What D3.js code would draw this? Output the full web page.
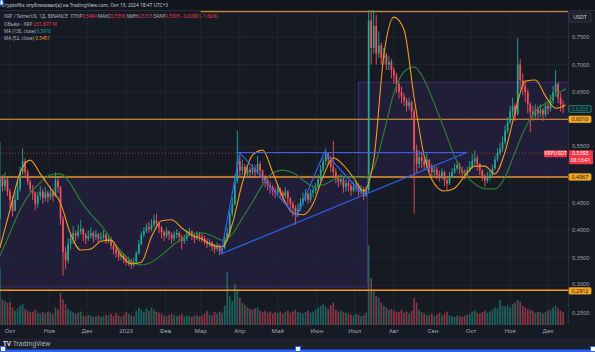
<!DOCTYPE html>
<html><head><meta charset="utf-8">
<script src="https://cdn.jsdelivr.net/npm/d3@7"></script>
<style>
html,body{margin:0;padding:0;background:#161a25;overflow:hidden;}
svg{display:block;font-family:"Noto Sans",Roboto,sans-serif;}
</style></head><body>
<svg id="c" width="595" height="352"></svg>
<script>
// ---------- DATA ----------
const startDate = "2022-09-23";          // first candle (2-day candles)
const firstOpen = 0.420;
const closes = [
0.495,0.480,0.492,0.470,0.455,0.435,0.455,0.475,0.505,0.525,
0.505,0.488,0.475,0.468,0.448,0.462,0.470,0.458,0.468,0.460,
0.468,0.462,0.490,0.478,0.420,0.360,0.345,0.375,0.385,0.395,
0.390,0.398,0.402,0.392,0.385,0.390,0.395,0.388,0.392,0.385,
0.388,0.392,0.380,0.385,0.372,0.365,0.358,0.352,0.355,0.348,
0.342,0.345,0.338,0.342,0.358,0.375,0.392,0.398,0.405,0.402,
0.410,0.418,0.412,0.405,0.396,0.390,0.398,0.392,0.385,0.392,
0.395,0.388,0.380,0.385,0.392,0.398,0.390,0.385,0.392,0.388,
0.385,0.380,0.375,0.378,0.370,0.366,0.372,0.362,0.368,0.385,
0.395,0.430,0.448,0.490,0.525,0.508,0.515,0.502,0.510,0.505,
0.512,0.505,0.520,0.508,0.495,0.490,0.482,0.478,0.472,0.468,
0.475,0.468,0.462,0.470,0.458,0.448,0.440,0.432,0.438,0.450,
0.458,0.465,0.455,0.468,0.472,0.478,0.492,0.510,0.525,0.538,
0.528,0.515,0.505,0.495,0.488,0.492,0.478,0.485,0.480,0.472,
0.478,0.482,0.470,0.475,0.462,0.472,0.780,0.730,0.770,0.720,
0.735,0.712,0.718,0.700,0.705,0.690,0.680,0.665,0.650,0.642,
0.635,0.625,0.632,0.615,0.545,0.520,0.532,0.525,0.518,0.528,
0.515,0.505,0.510,0.500,0.495,0.505,0.490,0.485,0.498,0.505,
0.512,0.518,0.510,0.505,0.500,0.508,0.515,0.525,0.530,0.520,
0.508,0.498,0.490,0.495,0.500,0.512,0.528,0.540,0.548,0.560,
0.580,0.595,0.615,0.625,0.610,0.700,0.672,0.660,0.650,0.628,
0.615,0.608,0.620,0.612,0.618,0.610,0.625,0.620,0.635,0.650,
0.665,0.640,0.628,0.622];
const highs = [
0.560,0.500,0.505,0.495,0.475,0.462,0.470,0.490,0.515,0.548,
0.530,0.510,0.492,0.482,0.470,0.470,0.480,0.475,0.478,0.472,
0.480,0.475,0.505,0.495,0.480,0.425,0.370,0.385,0.395,0.408,
0.400,0.410,0.418,0.405,0.395,0.400,0.405,0.398,0.400,0.395,
0.396,0.400,0.395,0.392,0.388,0.375,0.368,0.362,0.362,0.358,
0.352,0.352,0.348,0.350,0.362,0.382,0.398,0.405,0.412,0.415,
0.420,0.428,0.430,0.415,0.408,0.400,0.405,0.400,0.396,0.398,
0.402,0.398,0.392,0.392,0.400,0.405,0.400,0.395,0.398,0.396,
0.394,0.390,0.385,0.384,0.380,0.375,0.378,0.375,0.372,0.392,
0.405,0.440,0.460,0.500,0.580,0.540,0.528,0.520,0.518,0.515,
0.520,0.518,0.535,0.525,0.510,0.500,0.495,0.488,0.482,0.478,
0.482,0.478,0.472,0.478,0.472,0.460,0.452,0.445,0.448,0.458,
0.468,0.475,0.468,0.475,0.480,0.485,0.500,0.518,0.532,0.548,
0.540,0.535,0.562,0.512,0.500,0.502,0.495,0.492,0.490,0.485,
0.488,0.490,0.485,0.482,0.478,0.480,0.850,0.800,0.800,0.790,
0.760,0.740,0.730,0.722,0.715,0.710,0.695,0.685,0.670,0.660,
0.648,0.640,0.640,0.635,0.620,0.555,0.545,0.540,0.532,0.540,
0.525,0.520,0.518,0.515,0.508,0.512,0.508,0.498,0.505,0.512,
0.520,0.525,0.522,0.515,0.510,0.515,0.525,0.538,0.545,0.535,
0.522,0.510,0.502,0.505,0.508,0.518,0.535,0.548,0.558,0.570,
0.590,0.605,0.625,0.640,0.630,0.748,0.710,0.685,0.668,0.655,
0.632,0.625,0.628,0.625,0.628,0.622,0.632,0.632,0.645,0.662,
0.690,0.668,0.648,0.635];
const lows = [
0.370,0.470,0.472,0.462,0.440,0.425,0.435,0.455,0.470,0.500,
0.495,0.482,0.468,0.455,0.436,0.440,0.455,0.448,0.452,0.450,
0.455,0.452,0.460,0.468,0.410,0.318,0.330,0.340,0.365,0.375,
0.380,0.385,0.392,0.380,0.375,0.380,0.385,0.378,0.382,0.376,
0.380,0.383,0.375,0.376,0.365,0.356,0.350,0.345,0.346,0.340,
0.336,0.335,0.330,0.334,0.340,0.356,0.372,0.388,0.395,0.395,
0.398,0.405,0.402,0.395,0.385,0.380,0.386,0.382,0.375,0.380,
0.385,0.378,0.365,0.375,0.380,0.388,0.382,0.376,0.382,0.380,
0.378,0.374,0.368,0.370,0.362,0.358,0.362,0.355,0.358,0.365,
0.380,0.390,0.425,0.445,0.485,0.495,0.500,0.495,0.495,0.495,
0.500,0.495,0.502,0.495,0.485,0.478,0.472,0.466,0.462,0.458,
0.462,0.458,0.452,0.458,0.445,0.436,0.425,0.410,0.425,0.435,
0.445,0.452,0.448,0.450,0.460,0.466,0.475,0.488,0.505,0.518,
0.518,0.505,0.498,0.485,0.478,0.482,0.468,0.470,0.470,0.462,
0.468,0.470,0.462,0.465,0.455,0.460,0.468,0.700,0.720,0.700,
0.712,0.700,0.700,0.690,0.690,0.675,0.665,0.648,0.638,0.630,
0.625,0.615,0.618,0.600,0.430,0.505,0.512,0.512,0.508,0.512,
0.505,0.498,0.498,0.492,0.488,0.492,0.480,0.472,0.482,0.495,
0.502,0.508,0.502,0.496,0.492,0.498,0.505,0.512,0.518,0.508,
0.500,0.490,0.478,0.485,0.490,0.498,0.510,0.525,0.535,0.542,
0.555,0.575,0.592,0.605,0.598,0.608,0.655,0.645,0.632,0.612,
0.578,0.598,0.602,0.600,0.605,0.598,0.605,0.610,0.615,0.628,
0.642,0.630,0.615,0.612];
const volumes = [
178,80,75,70,72,55,45,52,60,65,
50,45,40,42,48,38,35,40,36,42,
38,35,55,48,100,80,65,50,45,40,
35,38,42,30,28,32,30,26,28,30,
25,28,32,30,35,28,38,30,26,32,
40,35,30,28,45,55,48,40,52,45,
55,48,42,38,35,30,28,32,35,30,
28,30,35,26,30,28,25,30,32,28,
30,35,45,32,30,40,35,42,38,60,
165,90,75,128,110,85,70,62,55,50,
48,52,55,45,40,45,38,42,35,40,
38,42,35,40,45,38,42,48,40,38,
35,40,45,38,42,48,55,60,65,58,
50,62,70,48,42,45,40,38,35,32,
30,35,32,28,30,38,250,147,110,90,
85,70,60,55,48,50,45,42,40,48,
38,42,35,45,84,70,48,40,35,32,
30,35,28,32,38,30,35,42,30,28,
25,30,28,26,30,32,35,42,45,38,
35,40,45,38,42,48,55,52,78,60,
58,62,55,65,70,78,72,60,55,50,
48,45,38,42,40,35,40,45,48,55,
60,52,45,40];
const maStep = 4; // moving-average samples every 4 candles
const ma52 = [
0.368,0.437,0.504,0.527,0.502,0.476,0.449,0.393,0.364,0.366,
0.380,0.382,0.355,0.339,0.342,0.388,0.417,0.419,0.404,0.391,
0.384,0.373,0.370,0.411,0.486,0.536,0.545,0.505,0.460,0.431,
0.428,0.448,0.498,0.531,0.518,0.495,0.471,0.527,0.717,0.786,
0.763,0.640,0.534,0.484,0.471,0.476,0.498,0.516,0.516,0.502,
0.542,0.614,0.670,0.672,0.643,0.621,0.627];
const ma138 = [
0.353,0.395,0.437,0.467,0.486,0.500,0.502,0.484,0.453,0.429,
0.409,0.384,0.362,0.344,0.337,0.342,0.355,0.371,0.384,0.393,
0.395,0.390,0.382,0.393,0.422,0.451,0.482,0.504,0.509,0.504,
0.491,0.480,0.482,0.491,0.496,0.496,0.495,0.513,0.576,0.649,
0.687,0.696,0.672,0.629,0.582,0.534,0.502,0.484,0.475,0.475,
0.496,0.542,0.585,0.616,0.630,0.645,0.656];
const monthTicks = ["2022-10-01","2022-11-01","2022-12-01","2023-01-01","2023-02-01","2023-03-01","2023-04-01","2023-05-01","2023-06-01","2023-07-01","2023-08-01","2023-09-01","2023-10-01","2023-11-01","2023-12-01"];
const monthLabels = ["Окт","Ноя","Дек","2023","Фев","Мар","Апр","Май","Июн","Июл","Авг","Сен","Окт","Ноя","Дек"];
const gridPrices = [0.80,0.75,0.70,0.65,0.60,0.55,0.50,0.45,0.40,0.35,0.30,0.25];
const priceLabels = [0.75,0.70,0.65,0.55,0.45,0.40,0.35,0.30,0.25];
const levelTop = {from:"2023-03-01", price:0.796};
const levels = [ {price:0.601, label:"0,6010", w:1.1, c:"#e8a23a"},
                 {price:0.4964, label:"0,4967", w:2.2, c:"#b8772f"},
                 {price:0.2912, label:"0,2912", w:1.4, c:"#f59d0e"} ];
const greenLevelLabel = {price:0.6196, label:"0,6203"};
const lastPrice = 0.5395, lastTime = "08:13:41";
const zones = [ {from:"2022-09-01", to:"2023-07-11", top:0.4964, bottom:0.297},
                {from:"2023-07-04", to:"2024-01-01", top:0.668, bottom:0.4964} ];
const trendAsc = [["2023-03-17",0.3569],["2023-09-28",0.5411]];
const trendFlat = [["2023-03-29",0.5408],["2023-09-28",0.5408]];
const zigzag = [["2023-03-17",0.3569],["2023-04-01",0.5404],["2023-05-16",0.4244],["2023-06-07",0.5417],["2023-07-07",0.4656]];
const headerText = "Cryptofiks опубликовал(а) на TradingView.com, Окт 15, 2024 18:47 UTC+3";
const legendRows = [
  {w:214, parts:[["XRP / TetherUS, 1Д, BINANCE\u00A0\u00A0","l"],["ОТКР","l"],["0,5484\u00A0","r"],["МАКС","l"],["0,5556\u00A0","r"],
   ["МИН","l"],["0,5315\u00A0","r"],["ЗАКР","l"],["0,5395\u00A0","r"],["−0,0089 (−1,62%)","r"]]},
  {w:53, parts:[["Объём - XRP\u00A0","l"],["231,877 M","r"]]},
  {w:47, parts:[["MA (138, close)\u00A0","l"],["0,5910","g"]]},
  {w:46, parts:[["MA (52, close)\u00A0","l"],["0,5451","o"]]}];

// ---------- SCALES ----------
const svg = d3.select("#c");
const W=595,H=352, PL=0, PR=568, PT=10, PB=325;
const pd = s => new Date(s+"T00:00:00Z");
const x = d3.scaleUtc().domain([pd("2022-10-01"), pd("2023-12-01")]).range([10,548]);
const y = d3.scaleLinear().domain([0.25,0.75]).range([313,37]);
const vy = d3.scaleLinear().domain([0,250]).range([PB,245]);
const DAY=864e5, t0 = pd(startDate).getTime();
const candles = closes.map((c,i)=>{const o=i?closes[i-1]:firstOpen;
  return {d:new Date(t0+2*i*DAY),o,c,h:Math.max(highs[i],o,c),l:Math.min(lows[i],o,c),v:volumes[i]};});
const up="#22ab94", dn="#f7525f";
const fmt = v => v.toFixed(4).replace(".",",");

// ---------- BACKGROUND ----------
svg.append("rect").attr("width",W).attr("height",H).attr("fill","#161a25");
svg.append("rect").attr("width",W).attr("height",PT).attr("fill","#12151e");
svg.append("rect").attr("y",338).attr("width",W).attr("height",14).attr("fill","#1c202b");
svg.append("line").attr("x1",0).attr("x2",W).attr("y1",PT+0.5).attr("y2",PT+0.5).attr("stroke","#2a2e39");

const defs = svg.append("defs");
defs.append("clipPath").attr("id","pane").append("rect").attr("x",PL).attr("y",PT).attr("width",PR-PL).attr("height",PB-PT);
const g = svg.append("g").attr("clip-path","url(#pane)");

// zones
zones.forEach(z=>{
  g.append("rect").attr("x",x(pd(z.from))).attr("y",y(z.top))
   .attr("width",x(pd(z.to))-x(pd(z.from))).attr("height",y(z.bottom)-y(z.top))
   .attr("fill","rgba(103,58,183,0.13)").attr("stroke","rgba(103,58,183,0.55)").attr("stroke-width",1);
});
// grid
g.selectAll(".gx").data(monthTicks).join("line").attr("x1",d=>x(pd(d))).attr("x2",d=>x(pd(d)))
 .attr("y1",PT).attr("y2",PB).attr("stroke","#212533").attr("stroke-width",1);
g.selectAll(".gy").data(gridPrices).join("line").attr("y1",d=>y(d)).attr("y2",d=>y(d))
 .attr("x1",PL).attr("x2",PR).attr("stroke","#212533").attr("stroke-width",1);

// volume
const bw=1.7;
g.selectAll(".vol").data(candles).join("rect")
 .attr("x",d=>x(d.d)-bw/2).attr("width",bw).attr("y",d=>vy(d.v)).attr("height",d=>PB-vy(d.v))
 .attr("fill",d=>d.c>=d.o?"rgba(34,171,148,0.5)":"rgba(247,82,95,0.5)");

// horizontal levels
g.append("line").attr("x1",x(pd(levelTop.from))).attr("x2",PR).attr("y1",y(levelTop.price)).attr("y2",y(levelTop.price))
 .attr("stroke","#c9862f").attr("stroke-width",1.4);
levels.forEach(l=>{
  g.append("line").attr("x1",PL).attr("x2",PR).attr("y1",y(l.price)).attr("y2",y(l.price))
   .attr("stroke",l.c).attr("stroke-width",l.w);
});
g.append("line").attr("x1",PL).attr("x2",PR).attr("y1",y(lastPrice)).attr("y2",y(lastPrice))
 .attr("stroke","#a8323f").attr("stroke-width",1).attr("stroke-dasharray","1,2");

// candles
const cg = g.append("g");
cg.selectAll(".wick").data(candles).join("line")
 .attr("x1",d=>x(d.d)).attr("x2",d=>x(d.d)).attr("y1",d=>y(d.h)).attr("y2",d=>y(d.l))
 .attr("stroke",d=>d.c>=d.o?up:dn).attr("stroke-width",0.9);
cg.selectAll(".body").data(candles).join("rect")
 .attr("x",d=>x(d.d)-bw/2).attr("width",bw)
 .attr("y",d=>y(Math.max(d.o,d.c))).attr("height",d=>Math.max(0.8,Math.abs(y(d.o)-y(d.c))))
 .attr("fill",d=>d.c>=d.o?up:dn);

// moving averages
const maLine = arr => d3.line().curve(d3.curveMonotoneX)
  .x((v,k)=>x(new Date(t0+2*k*maStep*DAY))).y(v=>y(v))(arr);
g.append("path").attr("d",maLine(ma138)).attr("fill","none").attr("stroke","#2e7d32").attr("stroke-width",1.2);
g.append("path").attr("d",maLine(ma52)).attr("fill","none").attr("stroke","#f39c12").attr("stroke-width",1.1);

// trend lines
const tl = d3.line().x(p=>x(pd(p[0]))).y(p=>y(p[1]));
[trendAsc,trendFlat,zigzag].forEach(t=>{
  g.append("path").attr("d",tl(t)).attr("fill","none").attr("stroke","#2f63f5").attr("stroke-width",1.2);
});

// ---------- AXES ----------
svg.append("line").attr("x1",PR+0.5).attr("x2",PR+0.5).attr("y1",PT).attr("y2",PB).attr("stroke","#2a2e39");
const shiftUp = d => (Math.abs(d-0.30)<1e-9 || Math.abs(d-0.55)<1e-9) ? 1.6 : 0;
svg.selectAll(".pl").data(priceLabels).join("text").attr("x",572)
 .attr("y",d=>y(d)+1.9-shiftUp(d))
 .attr("font-size",5.6).attr("fill","#a3a6af").text(fmt);
svg.selectAll(".ml").data(monthTicks).join("text").attr("x",(d)=>x(pd(d))).attr("y",333)
 .attr("text-anchor","middle").attr("font-size",6).attr("fill","#a3a6af").text((d,i)=>monthLabels[i]);

function box(yc,h,fill,stroke,txt,tc){
  svg.append("rect").attr("x",569).attr("y",yc-h/2).attr("width",22).attr("height",h).attr("rx",1)
   .attr("fill",fill).attr("stroke",stroke).attr("stroke-width",0.8);
  svg.append("text").attr("x",580).attr("y",yc+1.9).attr("text-anchor","middle").attr("font-size",5.4)
   .attr("fill",tc).text(txt);
}
box(17.5,9,"#1c202b","#3a3e4a","USDT","#d1d4dc");
box(y(greenLevelLabel.price),6.6,"#161a25","#22ab94",greenLevelLabel.label,"#22ab94");
levels.forEach(l=>box(y(l.price)+(l.price<0.3?0.6:0),6.4,"#f5a623","#f5a623",l.label,"#131722"));
// last price
const yl=y(lastPrice);
svg.append("rect").attr("x",544).attr("y",yl-3.0).attr("width",23).attr("height",7).attr("rx",1).attr("fill","#f23645");
svg.append("text").attr("x",555.5).attr("y",yl+2.1).attr("text-anchor","middle").attr("font-size",5.2).attr("fill","#fff").text("XRPUSDT");
svg.append("rect").attr("x",569).attr("y",yl-3.0).attr("width",24).attr("height",14).attr("rx",1).attr("fill","#f23645");
svg.append("text").attr("x",580.5).attr("y",yl+2.1).attr("text-anchor","middle").attr("font-size",5.4).attr("fill","#fff").text(fmt(lastPrice));
svg.append("text").attr("x",580.5).attr("y",yl+8.8).attr("text-anchor","middle").attr("font-size",4.9).attr("fill","#fff").text(lastTime);

// ---------- TEXTS ----------
svg.append("text").attr("x",2).attr("y",7.2).attr("font-size",5.6).attr("fill","#c4c7cf")
 .attr("textLength",166).attr("lengthAdjust","spacingAndGlyphs").text(headerText);
svg.append("rect").attr("x",0).attr("y",0).attr("width",3).attr("height",5).attr("fill","#fff").attr("stroke","#2962ff").attr("stroke-width",1);
const lcol = {l:"#b2b5be", r:"#f23645", g:"#22ab94", o:"#f39c12"};
const rowY = [18,26,33,40];
legendRows.forEach((row,ri)=>{
  const t = svg.append("text").attr("x",4).attr("y",rowY[ri]).attr("font-size",5.3);
  row.parts.forEach(([s,c])=>t.append("tspan").attr("fill",lcol[c]).text(s));
  const len = t.node().getComputedTextLength();
  if (len>0) t.attr("font-size", Math.min(5.6, 5.3*row.w/len));
});

// footer
svg.append("text").attr("x",3).attr("y",346).attr("font-size",6.5).attr("font-weight","bold").attr("fill","#d1d4dc").text("TV");
svg.append("text").attr("x",13).attr("y",346).attr("font-size",6.5).attr("fill","#b2b5be").text("TradingView");
svg.append("rect").attr("x",0).attr("y",349.5).attr("width",W).attr("height",2.5).attr("fill","#2962ff");
[0,295,590].forEach(xx=>svg.append("rect").attr("x",xx+0.5).attr("y",346.5).attr("width",5).attr("height",5)
  .attr("fill","#fff").attr("stroke","#2962ff").attr("stroke-width",1));
</script></body></html>
